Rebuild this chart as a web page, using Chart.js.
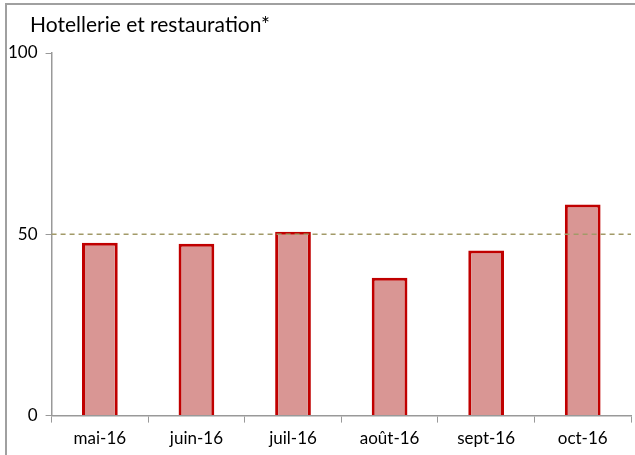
<!DOCTYPE html>
<html>
<head>
<meta charset="utf-8">
<script src="https://cdn.jsdelivr.net/npm/chart.js@4/dist/chart.umd.min.js"></script>
<style>
  body { margin: 0; background: #fff; }
  #wrap { position: relative; width: 635px; height: 455px; }
  #frame { position: absolute; left: 5px; top: 3px; right: 0; bottom: 0; border-left: 2px solid #a0a0a0; border-top: 2px solid #a0a0a0; pointer-events: none; }
</style>
</head>
<body>
<div id="wrap">
  <canvas id="chart" width="635" height="455"></canvas>
  <div id="frame"></div>
</div>
<script>
// --- Données ---
const categories = ['mai-16', 'juin-16', 'juil-16', 'août-16', 'sept-16', 'oct-16'];
const values = [47.7, 47.4, 50.7, 38, 45.5, 58.2];
const yTicks = [0, 50, 100];
const titleText = 'Hotellerie et restauration*';
const refLevel = 50;

const fontFamily = 'Lato, "DejaVu Sans", sans-serif';

// --- Ligne pointillée à 50 + titre ---
const extras = {
    id: 'extras',
    afterDatasetsDraw(chart) {
        const ctx = chart.ctx;
        const y = chart.scales.y.getPixelForValue(refLevel);
        const area = chart.chartArea;
        ctx.save();
        ctx.strokeStyle = '#a29a68';
        ctx.lineWidth = 1.5;
        ctx.setLineDash([5, 4]);
        ctx.beginPath();
        ctx.moveTo(area.left, y);
        ctx.lineTo(area.right, y);
        ctx.stroke();
        ctx.restore();
    },
    afterDraw(chart) {
        const ctx = chart.ctx;
        ctx.save();
        ctx.fillStyle = '#000';
        ctx.font = '21px ' + fontFamily;
        ctx.textBaseline = 'alphabetic';
        ctx.fillText(titleText, 30, 32);
        ctx.restore();
    }
};

new Chart(document.getElementById('chart'), {
    type: 'bar',
    data: {
        labels: categories,
        datasets: [{
            data: values,
            backgroundColor: '#d99694',
            borderColor: '#c00000',
            borderWidth: 3,
            categoryPercentage: 1,
            barPercentage: 0.37
        }]
    },
    options: {
        responsive: false,
        animation: false,
        layout: { padding: { top: 53, left: 0, right: 4, bottom: 0 } },
        plugins: {
            legend: { display: false },
            tooltip: { enabled: false },
            title: { display: false }
        },
        scales: {
            y: {
                min: 0,
                max: 100,
                afterBuildTicks: (axis) => { axis.ticks = yTicks.map(v => ({ value: v })); },
                grid: { drawOnChartArea: false, tickLength: 6, color: '#999' },
                border: { color: '#999', width: 1.5 },
                ticks: { color: '#000', padding: 8, font: { family: fontFamily, size: 17 } }
            },
            x: {
                offset: true,
                grid: { drawOnChartArea: false, offset: true, tickLength: 7, color: '#999' },
                border: { color: '#999', width: 1.5 },
                ticks: { color: '#000', padding: 6, font: { family: fontFamily, size: 17 } }
            }
        }
    },
    plugins: [extras]
});
</script>
</body>
</html>
